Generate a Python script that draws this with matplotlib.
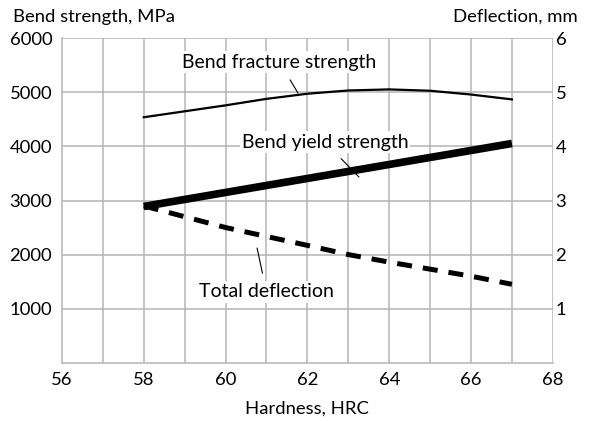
import matplotlib
matplotlib.use("Agg")
import matplotlib.pyplot as plt
import numpy as np

plt.rcParams['font.family'] = ['Lato', 'DejaVu Sans']

hardness = [58, 59, 60, 61, 62, 63, 64, 65, 66, 67]
fracture_strength = [4540, 4650, 4760, 4880, 4975, 5035, 5055, 5030, 4960, 4870]
yield_hardness = [58, 67]
yield_strength = [2890, 4055]
deflection_hardness = [58, 60, 62, 63, 64, 66, 67]
total_deflection = [2.9, 2.5, 2.17, 2.0, 1.86, 1.6, 1.45]

x_ticks = [56, 58, 60, 62, 64, 66, 68]
left_ticks = [1000, 2000, 3000, 4000, 5000, 6000]
right_ticks = [1, 2, 3, 4, 5, 6]

fig = plt.figure(figsize=(5.9, 4.21), dpi=100)
ax = fig.add_axes([0.105, 0.1385, 0.832, 0.7705])
ax2 = ax.twinx()

gridc = '#b4b4b4'
fs = 13.3
fa = 14

ax.set_xlim(56, 68)
ax.set_ylim(0, 6000)
ax2.set_ylim(0, 6)

# grid on the lower (twin) axes so that all curves sit above it
for xv in range(57, 69):
    ax2.axvline(xv, color=gridc, lw=1.1, zorder=0)
for yv in right_ticks:
    ax2.axhline(yv, color=gridc, lw=1.1, zorder=0)

for a in (ax, ax2):
    for s in a.spines.values():
        s.set_visible(False)
ax.spines['left'].set_visible(True)
ax.spines['bottom'].set_visible(True)
ax.spines['left'].set_color(gridc)
ax.spines['bottom'].set_color(gridc)
ax.spines['left'].set_linewidth(1.1)
ax.spines['bottom'].set_linewidth(1.1)

ax.set_xticks(x_ticks)
ax.set_xticklabels([str(v) for v in x_ticks], fontsize=fs)
ax.set_yticks(left_ticks)
ax.set_yticklabels([str(v) for v in left_ticks], fontsize=fs)
ax.tick_params(axis='both', length=0)
ax.tick_params(axis='y', pad=7)
ax.tick_params(axis='x', pad=7)
ax2.set_yticks(right_ticks)
ax2.set_yticklabels([str(v) for v in right_ticks], fontsize=fs)
ax2.tick_params(axis='y', length=0, pad=2)

ax.plot(hardness, fracture_strength, color='black', lw=1.6, zorder=3)
ax.plot(yield_hardness, yield_strength, color='black', lw=5.5, solid_capstyle='butt', zorder=3)
ax2.plot(deflection_hardness, total_deflection, color='black', lw=3.6,
         linestyle=(0, (3.0, 2.2)), dash_capstyle='butt', zorder=3)

ax.set_xlabel('Hardness, HRC', fontsize=fs, labelpad=9)
fig.text(13/590, 1 - 17/421, 'Bend strength, MPa', fontsize=fs, ha='left', va='center')
fig.text(578/590, 1 - 17/421, 'Deflection, mm', fontsize=fs, ha='right', va='center')

box = dict(facecolor='white', edgecolor='none', pad=1.5)
ax.annotate('Bend fracture strength', xy=(61.77, 4986), xytext=(61.32, 5561),
            fontsize=fa, ha='center', va='center', bbox=box, zorder=5,
            arrowprops=dict(arrowstyle='-', lw=0.8, color='black', shrinkA=6, shrinkB=0))
ax.annotate('Bend yield strength', xy=(63.26, 3434), xytext=(62.43, 4082),
            fontsize=fa, ha='center', va='center', bbox=box, zorder=5,
            arrowprops=dict(arrowstyle='-', lw=0.8, color='black', shrinkA=6, shrinkB=0))
ax.annotate('Total deflection', xy=(60.77, 2121), xytext=(61.0, 1308),
            fontsize=fa, ha='center', va='center', bbox=box, zorder=5,
            arrowprops=dict(arrowstyle='-', lw=0.8, color='black', shrinkA=6, shrinkB=0))

ax.set_zorder(ax2.get_zorder() + 1)
ax.patch.set_visible(False)

fig.savefig('out.png', dpi=100)
